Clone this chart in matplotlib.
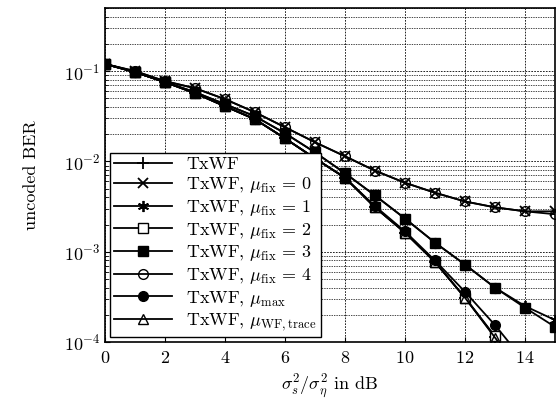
import numpy as np
import matplotlib
matplotlib.use("Agg")
import matplotlib.pyplot as plt

plt.rcParams['font.family'] = ['cmr10', 'DejaVu Serif']
plt.rcParams['mathtext.fontset'] = 'cm'
plt.rcParams['axes.formatter.use_mathtext'] = True

# SNR axis in dB
snr = np.arange(0, 16)

# BER values
ber_txwf   = [0.120, 0.0975, 0.0755, 0.057, 0.0408, 0.0293, 0.018, 0.0108, 0.0066, 0.0031, 0.00163, 0.00077, 0.00031, 0.000114, 0.00004, 0.000015]
ber_mu0    = [0.120, 0.100, 0.0774, 0.0647, 0.0489, 0.035, 0.0239, 0.0163, 0.0114, 0.0079, 0.0058, 0.0045, 0.0036, 0.0031, 0.0028, 0.0028]
ber_mu1    = [0.120, 0.0975, 0.0755, 0.0585, 0.043, 0.0316, 0.0205, 0.0126, 0.0074, 0.0042, 0.00233, 0.00126, 0.00072, 0.0004, 0.00025, 0.000175]
ber_mu2    = [0.120, 0.0975, 0.0755, 0.057, 0.0408, 0.0293, 0.018, 0.0108, 0.0066, 0.0031, 0.00163, 0.00077, 0.00031, 0.000116, 0.00004, 0.000015]
ber_mu3    = [0.120, 0.0975, 0.0755, 0.0585, 0.043, 0.0316, 0.0205, 0.0126, 0.0074, 0.0042, 0.00233, 0.00126, 0.00072, 0.0004, 0.00024, 0.000147]
ber_mu4    = [0.120, 0.100, 0.0774, 0.0647, 0.0489, 0.035, 0.0239, 0.0163, 0.0114, 0.0079, 0.0058, 0.0045, 0.0036, 0.0031, 0.0028, 0.0026]
ber_mumax  = [0.120, 0.0975, 0.0755, 0.057, 0.0408, 0.0293, 0.018, 0.0108, 0.0066, 0.0032, 0.00168, 0.0008, 0.00036, 0.000154, 0.00006, 0.000025]
ber_trace  = [0.120, 0.0975, 0.0755, 0.057, 0.0408, 0.0293, 0.018, 0.0108, 0.0066, 0.0031, 0.00163, 0.00077, 0.00031, 0.000112, 0.00004, 0.000015]

labels = ['TxWF',
          r'TxWF, $\mu_{\rm fix}\,=\,0$',
          r'TxWF, $\mu_{\rm fix}\,=\,1$',
          r'TxWF, $\mu_{\rm fix}\,=\,2$',
          r'TxWF, $\mu_{\rm fix}\,=\,3$',
          r'TxWF, $\mu_{\rm fix}\,=\,4$',
          r'TxWF, $\mu_{\rm max}$',
          r'TxWF, $\mu_{\rm WF,trace}$']

fig = plt.figure(figsize=(5.6, 4), dpi=100)
ax = fig.add_axes([0.1875, 0.145, 0.8035, 0.835])

k = dict(color='black', lw=1.3)
ax.plot(snr, ber_txwf, marker='+', ms=9, mew=1.3, label=labels[0], **k)
ax.plot(snr, ber_mu0, marker='x', ms=7, mew=1.3, label=labels[1], **k)
ax.plot(snr, ber_mu1, marker=(6, 2, 0), ms=8, mew=1.3, label=labels[2], **k)
ax.plot(snr, ber_mu2, marker='s', ms=7, mfc='white', label=labels[3], **k)
ax.plot(snr, ber_mu3, marker='s', ms=7, mfc='black', label=labels[4], **k)
ax.plot(snr, ber_mu4, marker='o', ms=7, mfc='none', label=labels[5], **k)
ax.plot(snr, ber_mumax, marker='o', ms=7, mfc='black', label=labels[6], **k)
ax.plot(snr, ber_trace, marker='^', ms=7, mfc='none', label=labels[7], **k)

ax.set_yscale('log')
ax.set_xlim(0, 15)
ax.set_ylim(1e-4, 0.5)
ax.set_xticks(range(0, 15, 2))
ax.grid(True, which='major', axis='both', ls=(0, (2, 1.5)), color='black', lw=0.6)
ax.grid(True, which='minor', axis='y', ls=(0, (2, 1.5)), color='black', lw=0.5)
ax.tick_params(direction='in', which='both', labelsize=13, top=False, right=False)
ax.tick_params(axis='x', pad=6)
for s in ax.spines.values():
    s.set_linewidth(1.2)

ax.set_xlabel(r'$\sigma_s^2/\sigma_\eta^2$ in dB', fontsize=13)
ax.set_ylabel('uncoded BER', fontsize=13, labelpad=18)

leg = ax.legend(loc='lower left', fontsize=13, handlelength=3.2, framealpha=1,
                fancybox=False, edgecolor='black', borderpad=0.2, labelspacing=0.15,
                borderaxespad=0.3)
leg.get_frame().set_linewidth(1.0)

fig.savefig('out.png', dpi=100)
